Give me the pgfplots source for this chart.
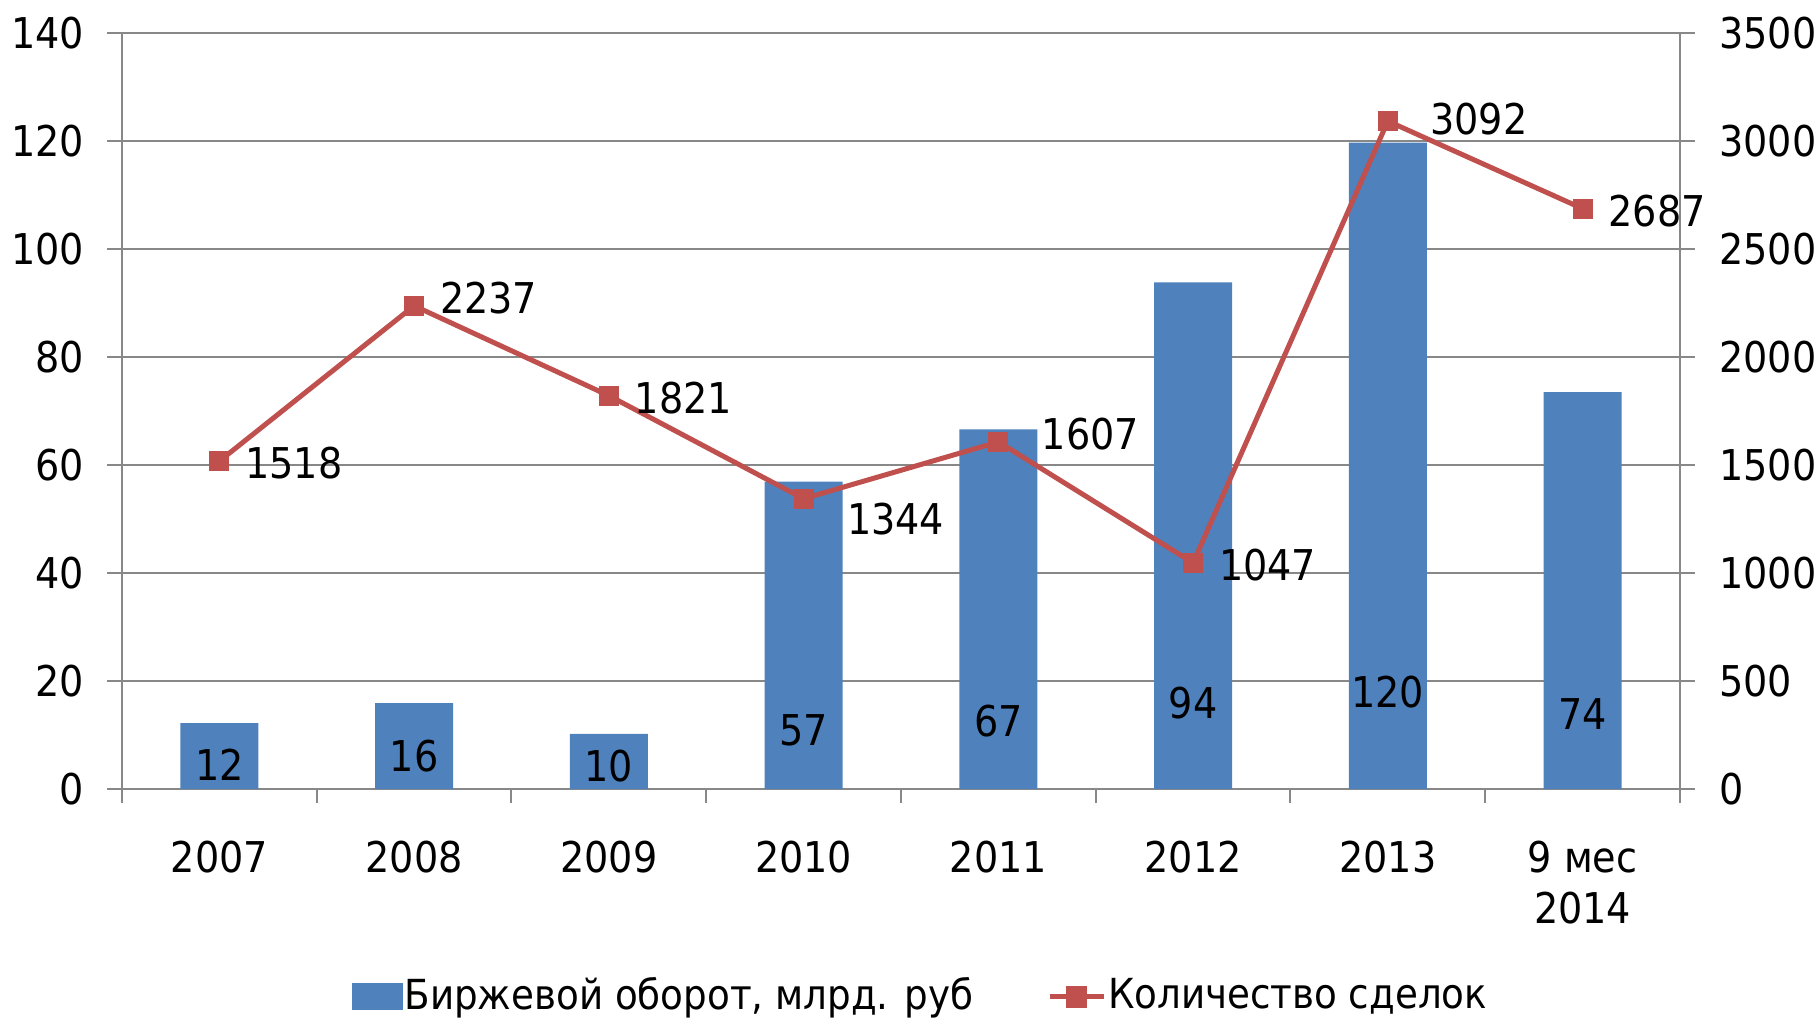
\documentclass[border=0pt]{standalone}
\usepackage{pgfplots}
\pgfplotsset{compat=1.18}
\usepackage{fontspec}
\setmainfont{DejaVu Sans Condensed}
\definecolor{barblue}{HTML}{4F81BD}
\definecolor{linered}{HTML}{C0504D}
\definecolor{gridgray}{HTML}{888888}
\begin{document}
\fontsize{10.6}{12.75}\selectfont
\begin{tikzpicture}
\useasboundingbox (0,0) rectangle (455pt,254.75pt);
\pgfplotsset{
  common/.style={
    at={(30.5pt,57.5pt)}, anchor=south west,
    width=389.5pt, height=189pt, scale only axis,
    xmin=-0.5, xmax=7.5, clip=false,
    /pgf/number format/assume math mode=true,
    /pgf/number format/1000 sep={},
    tick align=outside,
    tick style={gridgray, line width=0.5pt},
    axis line style={gridgray, line width=0.5pt, -},
    ticklabel style={font=\fontsize{10.6}{12.75}\selectfont, inner sep=0pt},
  }
}
\begin{axis}[common,
  ymin=0, ymax=140,
  axis x line*=bottom, axis y line*=left,
  ytick={0,20,...,140},
  ymajorgrids, grid style={gridgray, line width=0.5pt},
  major tick length=3.75pt, minor tick length=3.5pt,
  xtick={0,...,7},
  xticklabels={2007,2008,2009,2010,2011,2012,2013,{9 мес\\2014}},
  xticklabel style={align=center, anchor=north, yshift=-9pt},
  minor xtick={-0.5,0.5,...,7.5},
  major x tick style={draw=none},
  yticklabel style={anchor=east, xshift=-5.5pt},
  legend style={at={(0.5125,-0.275)}, anchor=center, draw=none, fill=none,
    legend columns=2, font=\fontsize{10.35}{12.75}\selectfont,
    /tikz/every even column/.append style={column sep=18pt},
    nodes={inner sep=0.5pt}},
]
\addplot[ybar, bar width=0.4, bar shift=0pt, fill=barblue, draw=none,
  legend image code/.code={\fill[barblue] (0pt,-3.375pt) rectangle (12.75pt,3.375pt);}]
  coordinates {(0,12.2)(1,15.9)(2,10.2)(3,56.9)(4,66.6)(5,93.8)(6,119.7)(7,73.5)};
\addlegendentry{Биржевой оборот, млрд. руб}
\addlegendimage{legend image code/.code={
  \draw[linered, line width=1.25pt] (0pt,0pt) -- (13.5pt,0pt);
  \fill[linered] (4.25pt,-2.5pt) rectangle (9.25pt,2.5pt);}}
\addlegendentry{Количество сделок}
\node at (axis cs:0,0) [yshift=6.1pt] {12};
\node at (axis cs:1,0) [yshift=8.2pt] {16};
\node at (axis cs:2,0) [yshift=5.7pt] {10};
\node at (axis cs:3,0) [yshift=14.6pt] {57};
\node at (axis cs:4,0) [yshift=16.9pt] {67};
\node at (axis cs:5,0) [yshift=21.5pt] {94};
\node at (axis cs:6,0) [yshift=24.3pt] {120};
\node at (axis cs:7,0) [yshift=18.8pt] {74};
\end{axis}
\begin{axis}[common,
  ymin=0, ymax=3500,
  axis x line=none, axis y line*=right,
  ytick={0,500,...,3500},
  major tick length=3.75pt,
  yticklabel style={anchor=west, xshift=5.9pt},
]
\addplot[linered, line width=1.25pt, mark=square*, mark size=2.3pt,
  mark options={solid, line width=0.4pt, fill=linered, draw=linered}]
  coordinates {(0,1518)(1,2237)(2,1821)(3,1344)(4,1607)(5,1047)(6,3092)(7,2687)};
\node[anchor=west, inner sep=0pt] at (axis cs:0,1518) [xshift=6.3pt, yshift=-0.5pt] {1518};
\node[anchor=west, inner sep=0pt] at (axis cs:1,2237) [xshift=6.3pt, yshift=2pt] {2237};
\node[anchor=west, inner sep=0pt] at (axis cs:2,1821) [xshift=6.3pt, yshift=-0.5pt] {1821};
\node[anchor=west, inner sep=0pt] at (axis cs:3,1344) [xshift=10.7pt, yshift=-5pt] {1344};
\node[anchor=west, inner sep=0pt] at (axis cs:4,1607) [xshift=10.7pt, yshift=2pt] {1607};
\node[anchor=west, inner sep=0pt] at (axis cs:5,1047) [xshift=6.3pt, yshift=-0.5pt] {1047};
\node[anchor=west, inner sep=0pt] at (axis cs:6,3092) [xshift=10.4pt, yshift=0.5pt] {3092};
\node[anchor=west, inner sep=0pt] at (axis cs:7,2687) [xshift=6.3pt, yshift=-0.5pt] {2687};
\end{axis}
\end{tikzpicture}
\end{document}
